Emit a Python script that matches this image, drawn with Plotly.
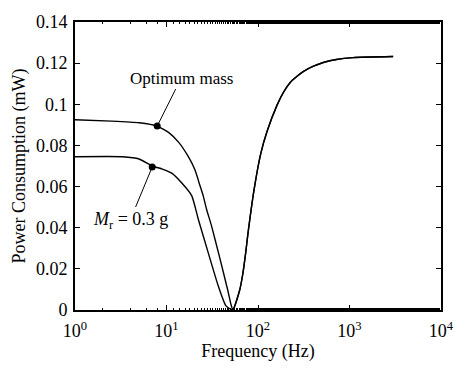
import numpy as np
import plotly.graph_objects as go

# Shared high-frequency branch (both curves coincide)
freq_right = [53, 62.9, 68.2, 73.7, 77.1, 90.6, 107, 126, 162, 191, 226, 267, 315, 404, 517, 720, 1095, 3000]
p_right = [0.0, 0.0095, 0.0175, 0.0285, 0.036, 0.0585, 0.0759, 0.087, 0.0997, 0.1060, 0.1107, 0.1136, 0.1160, 0.1185, 0.1203, 0.1218, 0.1227, 0.1232]

# Low-frequency branch, optimum mass
freq_left_opt = [1, 2.5, 5.02, 7.91, 10.6, 13.6, 17.4, 20.5, 23.2, 25.2, 27.4, 31.0, 38.2, 46.8, 50.5]
p_left_opt = [0.0925, 0.0918, 0.0910, 0.0894, 0.0862, 0.0815, 0.0744, 0.0680, 0.0605, 0.0555, 0.0490, 0.0410, 0.0253, 0.0095, 0.0030]

# Low-frequency branch, Mr = 0.3 g
freq_left_mr = [1, 3.29, 5.02, 6.98, 9.0, 11.5, 14.7, 18.9, 22.3, 28.5, 36.6, 44.7]
p_left_mr = [0.0745, 0.0745, 0.0734, 0.0700, 0.0685, 0.0664, 0.0617, 0.0555, 0.0440, 0.0280, 0.0120, 0.0020]

marker_freq = [7.91, 6.98]
marker_p = [0.0894, 0.0695]

x_tickvals = [1, 10, 100, 1000, 10000]
x_ticktext = ["10<sup>0</sup>", "10<sup>1</sup>", "10<sup>2</sup>", "10<sup>3</sup>", "10<sup>4</sup>"]
y_tickvals = [0, 0.02, 0.04, 0.06, 0.08, 0.1, 0.12, 0.14]
y_ticktext = ["0", "0.02", "0.04", "0.06", "0.08", "0.1", "0.12", "0.14"]

FONT = "Liberation Serif, Times New Roman, serif"
line_style = dict(color="black", width=1.4, shape="spline", smoothing=0.5)

fig = go.Figure()
fig.add_trace(go.Scatter(x=freq_left_opt + freq_right, y=p_left_opt + p_right,
                         mode="lines", line=line_style, showlegend=False))
fig.add_trace(go.Scatter(x=freq_left_mr + freq_right, y=p_left_mr + p_right,
                         mode="lines", line=line_style, showlegend=False))
fig.add_trace(go.Scatter(x=marker_freq, y=marker_p, mode="markers",
                         marker=dict(color="black", size=7), showlegend=False))

fig.add_annotation(x=np.log10(marker_freq[0]), y=marker_p[0], text="Optimum mass",
                   showarrow=True, arrowhead=0, arrowwidth=1, arrowcolor="black",
                   ax=24, ay=-48, standoff=3, font=dict(family=FONT, size=17, color="black"))
fig.add_annotation(x=np.log10(marker_freq[1]), y=marker_p[1],
                   text="<i>M</i><sub>r</sub> = 0.3 g",
                   showarrow=True, arrowhead=0, arrowwidth=1, arrowcolor="black",
                   ax=-22, ay=53, standoff=3, font=dict(family=FONT, size=18, color="black"))

fig.update_layout(
    width=466, height=374,
    margin=dict(l=75, r=20, t=15, b=64),
    paper_bgcolor="white", plot_bgcolor="white",
    font=dict(family=FONT, size=18, color="black"),
    showlegend=False,
)
fig.update_xaxes(type="log", range=[0, 4], tickvals=x_tickvals, ticktext=x_ticktext,
                 ticks="inside", ticklen=5, tickcolor="black", mirror="allticks",
                 showline=True, linecolor="black", linewidth=1.6, showgrid=False, zeroline=False,
                 minor=dict(ticks="inside", ticklen=2, tickcolor="black", showgrid=False),
                 ticklabelstandoff=4,
                 title=dict(text="Frequency (Hz)", standoff=2, font=dict(family=FONT, size=18)),
                 tickfont=dict(family=FONT, size=18))
fig.update_yaxes(range=[0, 0.14], tickvals=y_tickvals, ticktext=y_ticktext,
                 ticks="inside", ticklen=5, tickcolor="black", mirror="allticks",
                 showline=True, linecolor="black", linewidth=1.6, showgrid=False, zeroline=False,
                 ticklabelstandoff=2,
                 title=dict(text="Power Consumption (mW)", standoff=6, font=dict(family=FONT, size=18)),
                 tickfont=dict(family=FONT, size=18))

fig.write_html("out.html")
